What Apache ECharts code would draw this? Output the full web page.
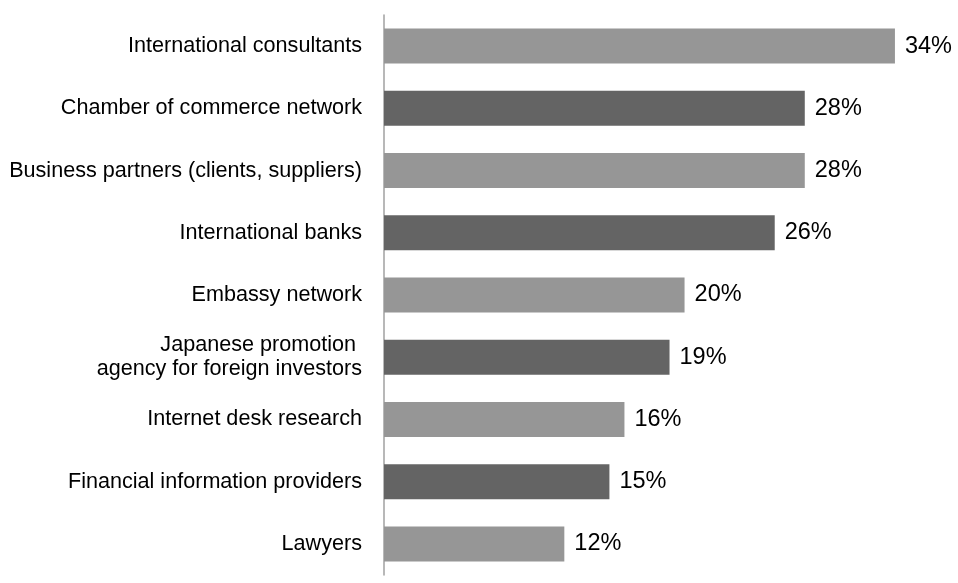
<!DOCTYPE html>
<html>
<head>
<meta charset="utf-8">
<script src="https://cdn.jsdelivr.net/npm/echarts@6/dist/echarts.min.js"></script>
<style>
  html, body { margin: 0; padding: 0; background: #fff; }
  #chart { width: 958px; height: 583px; }
</style>
</head>
<body>
<div id="chart"></div>
<script>
// Information sources used, share of respondents (%)
const categories = [
  'International consultants',
  'Chamber of commerce network',
  'Business partners (clients, suppliers)',
  'International banks',
  'Embassy network',
  'Japanese promotion \nagency for foreign investors',
  'Internet desk research',
  'Financial information providers',
  'Lawyers'
];
const shares = [34, 28, 28, 26, 20, 19, 16, 15, 12];

const LIGHT = '#969696';
const DARK = '#646464';
const FONT = '"Liberation Sans", Arial, Helvetica, sans-serif';

const chart = echarts.init(document.getElementById('chart'), null, { renderer: 'canvas' });
chart.setOption({
  animation: false,
  backgroundColor: '#ffffff',
  grid: { left: 384, right: 33, top: 15, bottom: 8, containLabel: false },
  xAxis: {
    type: 'value',
    min: 0,
    max: 36,
    show: false
  },
  yAxis: {
    type: 'category',
    data: categories,
    inverse: true,
    offset: 2,
    axisLine: { show: true, lineStyle: { color: '#a0a0a0', width: 1.5 } },
    axisTick: { show: false },
    splitLine: { show: false },
    axisLabel: {
      margin: 20,
      color: '#000',
      fontFamily: FONT,
      fontSize: 21.6,
      lineHeight: 24,
      align: 'right'
    }
  },
  series: [{
    type: 'bar',
    data: shares,
    barWidth: 35,
    itemStyle: {
      color: (p) => (p.dataIndex % 2 === 0 ? LIGHT : DARK)
    },
    label: {
      show: true,
      position: 'right',
      distance: 10,
      color: '#000',
      fontFamily: FONT,
      fontSize: 23.5,
      formatter: (p) => p.value + '%'
    }
  }]
});
</script>
</body>
</html>
